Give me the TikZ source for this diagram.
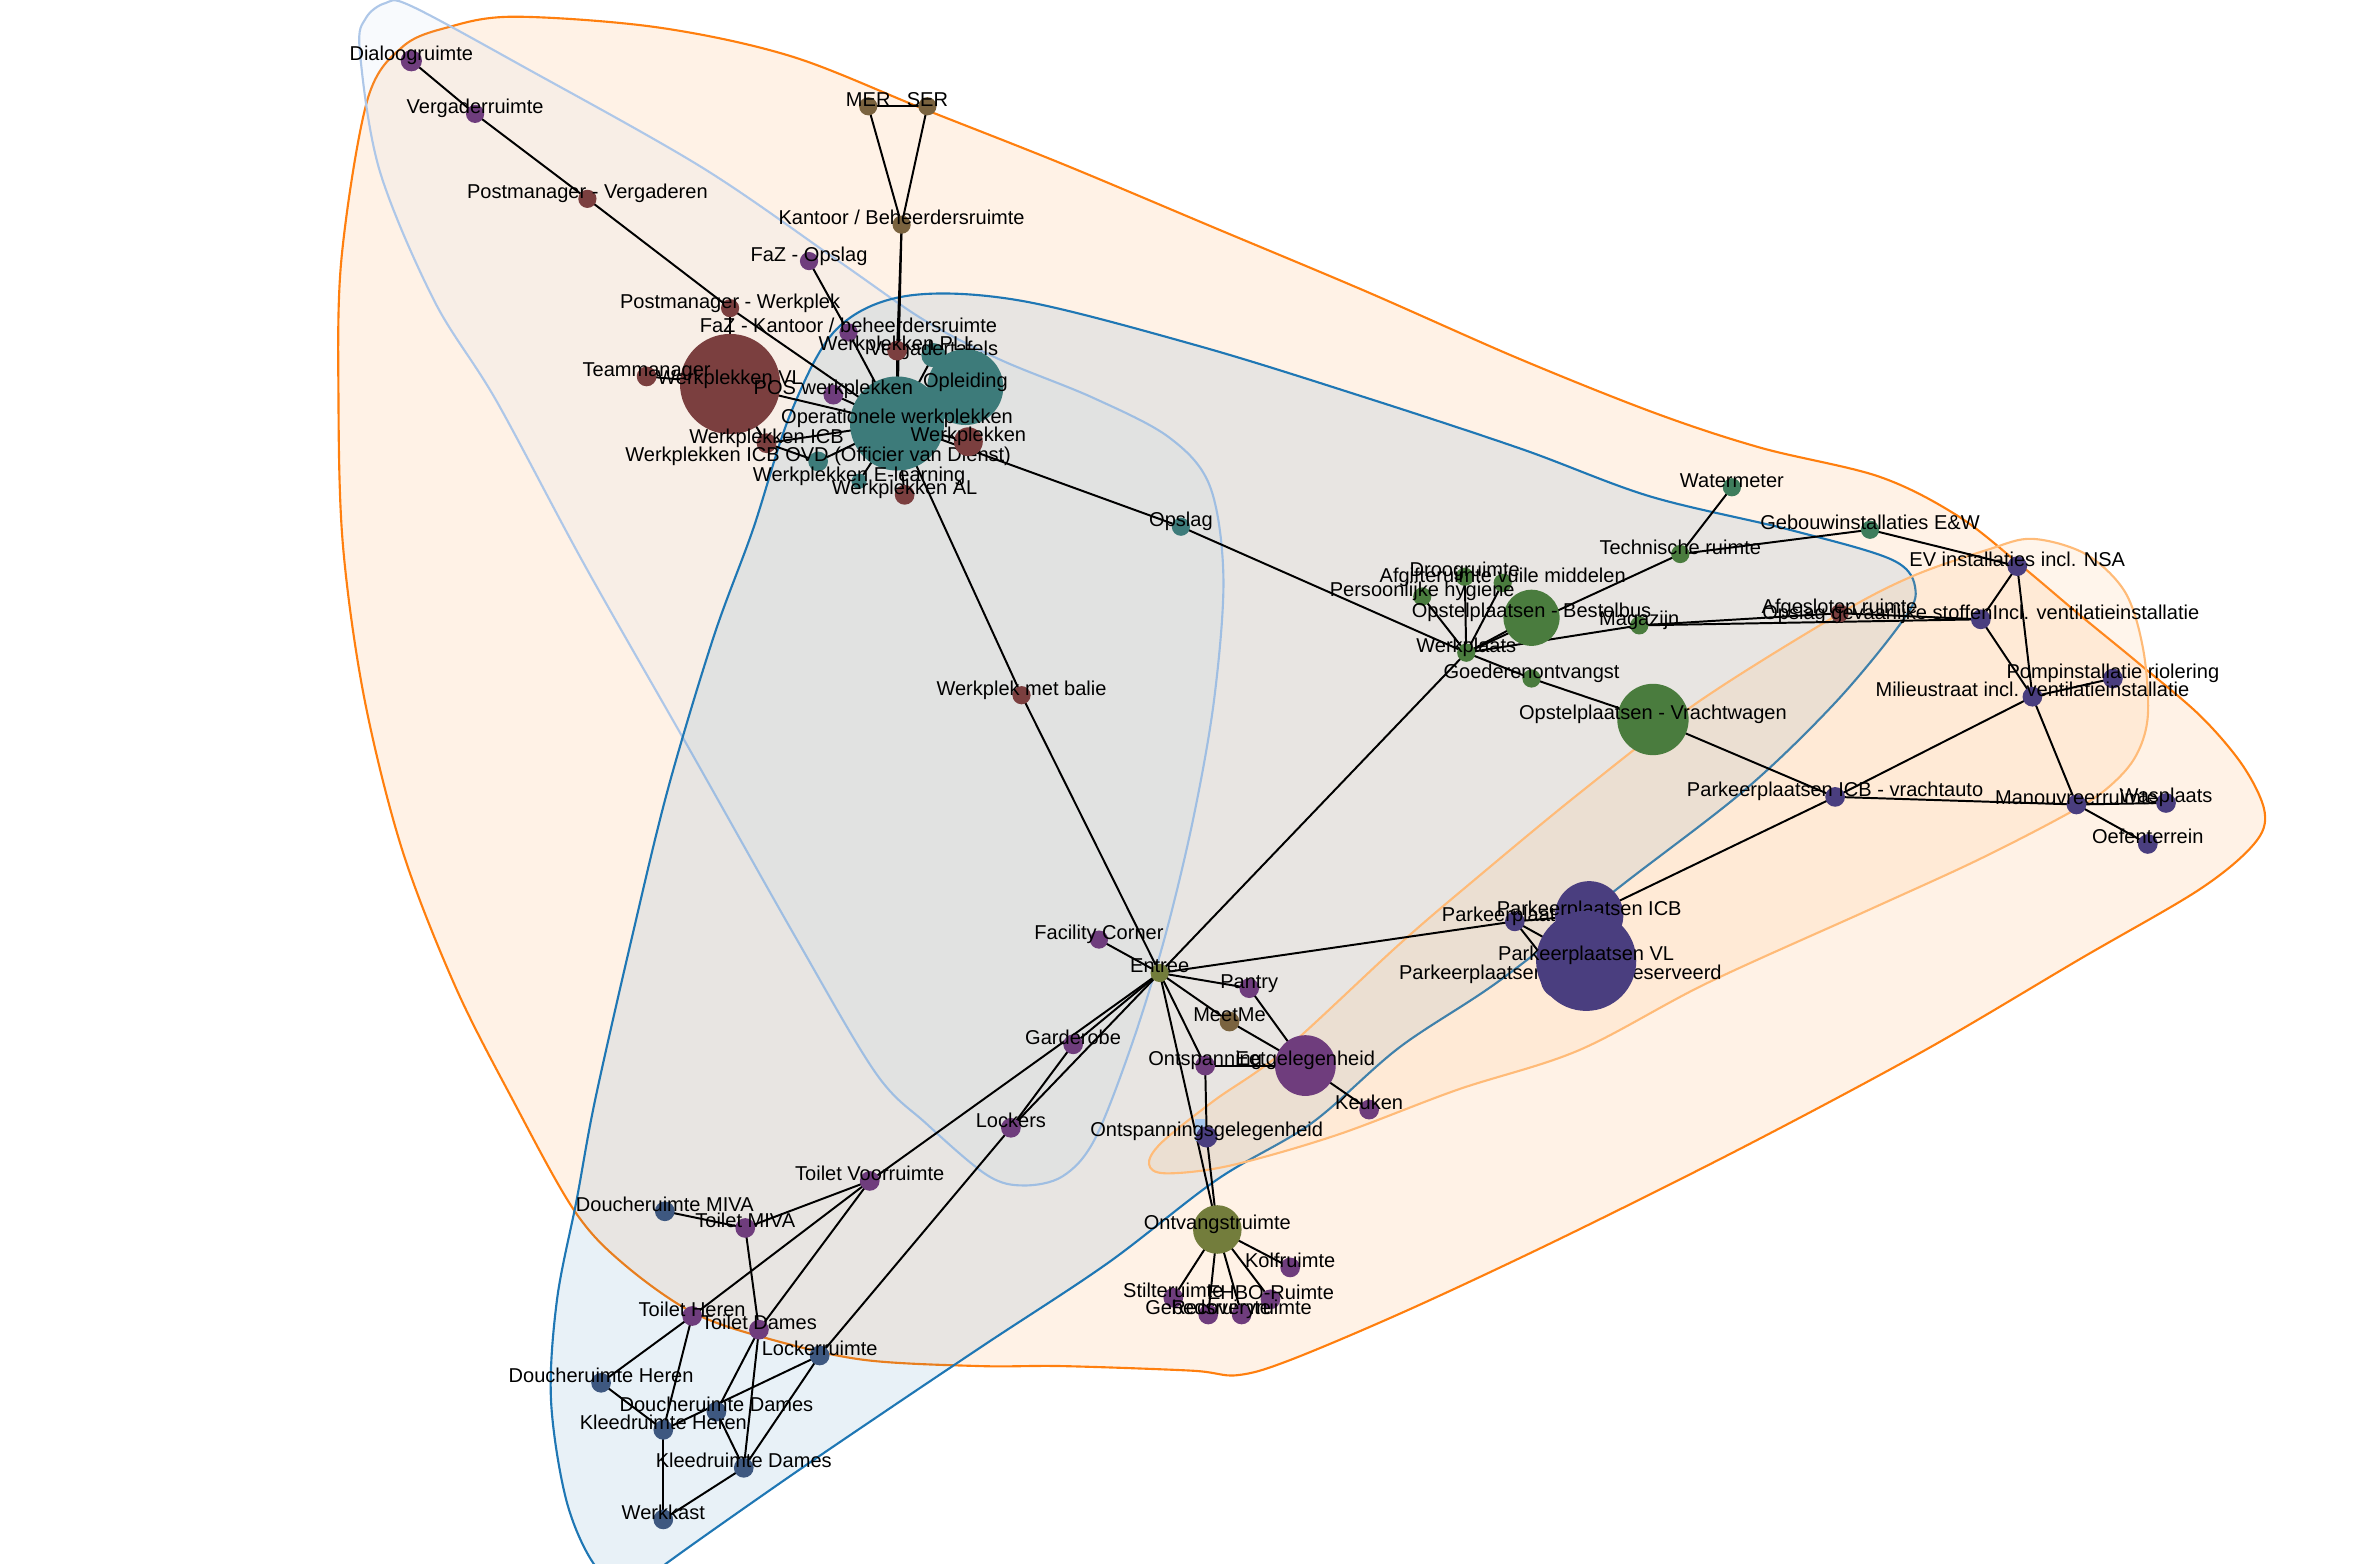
\documentclass[tikz,border=0pt]{standalone}
\usepackage{fontspec}
\setmainfont{Liberation Sans}
\pgfdeclarelayer{hull}
\pgfdeclarelayer{edge}
\pgfsetlayers{hull,edge,main}
\definecolor{cMaroon}{HTML}{7B3F3F}
\definecolor{cPurple}{HTML}{6F3D7D}
\definecolor{cTeal}{HTML}{3D7B7A}
\definecolor{cBrown}{HTML}{7A633F}
\definecolor{cGreen}{HTML}{4A7C3E}
\definecolor{cSea}{HTML}{3E7D5C}
\definecolor{cIndigo}{HTML}{4A3E7F}
\definecolor{cSlate}{HTML}{3E5880}
\definecolor{cOlive}{HTML}{737D3C}
\definecolor{hOrange}{HTML}{FF7F0E}
\definecolor{hBlue}{HTML}{1F77B4}
\definecolor{hSteel}{HTML}{AEC7E8}
\definecolor{hPeach}{HTML}{FFBB78}
\definecolor{hiBlue}{HTML}{A8C8EE}
\tikzset{
  vtx/.style={circle, inner sep=0pt, draw=none},
  lbl/.style={anchor=base, inner sep=0pt, font=\fontsize{6.6}{7}\selectfont, text=black},
  edge/.style={draw=black, line width=0.65pt},
  hull/.style={line width=0.7pt, line join=round},
}
\newcommand\vx[6]{\node[vtx,fill=#5,minimum size=#4pt] (#1) at (#2,#3) {};\node[lbl] (#1-l) at (#2,#3) {#6};}
\newcommand\ee[2]{\draw[edge] (#1.center) -- (#2.center);}
\begin{document}
\begin{tikzpicture}[x=0.5pt,y=-0.5pt]
\useasboundingbox (0,0) rectangle (1568,1030);
\begin{pgfonlayer}{hull}
\begin{scope}
\clip (0,0) rectangle (1568,1030);
% orange hull
\draw[hull, draw=hOrange, fill=hOrange, fill opacity=0.1] plot[smooth cycle, tension=0.55] coordinates {
(242,66) (265,31) (295,18) (339,11) (433,18) (521,37) (609,72) (700,108) (800,150) (900,192) (1000,236) (1090,272) (1160,295) (1238,314) (1290,340) (1332,373) (1370,405) (1409,437) (1450,472) (1478,505) (1492,535) (1485,556) (1449,586) (1370,632) (1268,692) (1150,755) (1030,815) (930,862) (850,896) (815,906) (785,903) (700,900) (646,900) (570,896) (510,883) (457,865) (410,832) (378,797) (338,725) (300,650) (265,560) (240,460) (226,360) (223,264) (225,170)};
% steel blue hull
\draw[hull, draw=hSteel, fill=hSteel, fill opacity=0.09] plot[smooth cycle, tension=0.55] coordinates {
(254,2) (271,4) (345,44) (462,110) (551,171) (609,211) (659,237) (720,262) (770,288) (797,320) (806,380) (800,460) (786,540) (767,619) (745,690) (721,751) (700,775) (674,781) (650,774) (610,740) (577,707) (525,619) (455,495) (385,372) (327,264) (286,198) (250,112) (237,33) (241,12)};
% blue hull
\draw[hull, draw=hBlue, fill=hBlue, fill opacity=0.1] plot[smooth cycle, tension=0.55] coordinates {
(551,217) (597,195) (672,198) (790,228) (900,262) (1003,296) (1087,327) (1179,349) (1247,369) (1262,389) (1252,411) (1209,463) (1150,520) (1070,582) (988,646) (922,690) (864,740) (802,777) (730,832) (650,885) (580,932) (514,977) (439,1030) (415,1050) (391,1030) (373,988) (363,922) (367,856) (380,790) (392,725) (416,619) (440,520) (470,420) (496,349) (521,272)};
% peach hull
\draw[hull, draw=hPeach, fill=hPeach, fill opacity=0.15] plot[smooth cycle, tension=0.55] coordinates {
(1339,355) (1374,365) (1400,390) (1412,428) (1415,472) (1406,500) (1385,522) (1355,540) (1300,568) (1230,600) (1124,648) (1040,692) (960,718) (880,748) (810,768) (768,773) (757,767) (765,753) (800,725) (845,693) (922,622) (971,580) (1040,523) (1118,463) (1209,406) (1259,380) (1310,362)};
\end{scope}
\end{pgfonlayer}
% ---------------- nodes ----------------
\vx{dialoog}{271}{40}{7}{cPurple}{Dialoogruimte}
\vx{vergr}{313}{75}{6}{cPurple}{Vergaderruimte}
\vx{pmv}{387}{131}{6}{cMaroon}{Postmanager - Vergaderen}
\vx{pmw}{481}{203}{6}{cMaroon}{Postmanager - Werkplek}
\vx{mer}{572}{70}{6}{cBrown}{MER}
\vx{ser}{611}{70}{6}{cBrown}{SER}
\vx{kantoor}{594}{148}{6}{cBrown}{Kantoor / Beheerdersruimte}
\vx{fazo}{533}{172}{6}{cPurple}{FaZ - Opslag}
\vx{vtaf}{615}{234}{8}{cTeal}{Vergadertafels}
\vx{opl}{636}{255}{25}{cTeal}{Opleiding}
\vx{fazk}{559}{219}{6}{cPurple}{FaZ - Kantoor / beheerdersruimte}
\vx{pll}{591}{231}{6.5}{cMaroon}{Werkplekken PLL}
\vx{wvl}{481}{253}{33}{cMaroon}{Werkplekken VL}
\vx{team}{426}{248}{6.5}{cMaroon}{Teammanager}
\vx{oper}{591}{279}{31}{cTeal}{Operationele werkplekken}
\vx{pos}{549}{260}{6.5}{cPurple}{POS werkplekken}
\vx{wicb}{505}{292}{6.5}{cMaroon}{Werkplekken ICB}
\vx{ovd}{539}{304}{6.5}{cTeal}{Werkplekken ICB OVD (Officier van Dienst)}
\vx{elearn}{566}{317}{5}{cTeal}{Werkplekken E-learning}
\vx{wal}{596}{326}{6.5}{cMaroon}{Werkplekken AL}
\vx{wpk}{638}{291}{9.5}{cMaroon}{Werkplekken}
\vx{opslag}{778}{347}{6}{cTeal}{Opslag}
\vx{balie}{673}{458}{6}{cMaroon}{Werkplek met balie}
% right cluster
\vx{water}{1141}{321}{6}{cSea}{Watermeter}
\vx{techn}{1107}{365}{6}{cGreen}{Technische ruimte}
\vx{gebouw}{1232}{349}{6}{cSea}{Gebouwinstallaties E\&W}
\vx{ev}{1329}{373}{6.5}{cIndigo}{EV installaties incl. NSA}
\vx{droog}{965}{380}{6}{cGreen}{Droogruimte}
\vx{afgifte}{990}{384}{6}{cGreen}{Afgifteruimte vuile middelen}
\vx{hyg}{937}{393}{6}{cGreen}{Persoonlijke hygiene}
\vx{bestel}{1009}{407}{18.5}{cGreen}{Opstelplaatsen - Bestelbus}
\vx{werkpl}{966}{430}{6}{cGreen}{Werkplaats}
\vx{magazijn}{1080}{412}{6}{cGreen}{Magazijn}
\vx{goed}{1009}{447}{6}{cGreen}{Goederenontvangst}
\vx{vracht}{1089}{474}{23.5}{cGreen}{Opstelplaatsen - Vrachtwagen}
\vx{afges}{1212}{404}{6}{cMaroon}{Afgesloten ruimte}
\vx{gevaar}{1305}{408}{6.5}{cIndigo}{Opslag gevaarlijke stoffenIncl. ventilatieinstallatie}
\vx{pomp}{1392}{447}{6.5}{cIndigo}{Pompinstallatie riolering}
\vx{milieu}{1339}{459}{6.5}{cIndigo}{Milieustraat incl. ventilatieinstallatie}
\vx{picbv}{1209}{525}{6.5}{cIndigo}{Parkeerplaatsen ICB - vrachtauto}
\vx{manouv}{1368}{530}{6.5}{cIndigo}{Manouvreerruimte}
\vx{was}{1427}{529}{6.5}{cIndigo}{Wasplaats}
\vx{oefen}{1415}{556}{6.5}{cIndigo}{Oefenterrein}
% parking
\vx{park}{998}{607}{6.5}{cIndigo}{Parkeerplaatsen}
\vx{pres}{1028}{645}{13}{cIndigo}{Parkeerplaatsen MIVA gereserveerd}
\vx{picb}{1047}{603}{22.5}{cIndigo}{Parkeerplaatsen ICB}
\vx{pvl}{1045}{633}{33}{cIndigo}{Parkeerplaatsen VL}
% entree cluster
\vx{entree}{764}{641}{6}{cOlive}{Entree}
\vx{facil}{724}{619}{6}{cPurple}{Facility Corner}
\vx{pantry}{823}{651}{6.5}{cPurple}{Pantry}
\vx{meetme}{810}{673}{6.5}{cBrown}{MeetMe}
\vx{ontsp}{794}{702}{6.5}{cPurple}{Ontspanning}
\vx{eet}{860}{702}{20}{cPurple}{Eetgelegenheid}
\vx{keuken}{902}{731}{6.5}{cPurple}{Keuken}
\fill[hiBlue] (787,737) rectangle (794,752);
\vx{ontspg}{795}{749}{7}{cIndigo}{Ontspanningsgelegenheid}
\vx{ontv}{802}{810}{16}{cOlive}{Ontvangstruimte}
\vx{kolf}{850}{835}{6.5}{cPurple}{Kolfruimte}
\vx{stilte}{773}{855}{6.5}{cPurple}{Stilteruimte}
\vx{ehbo}{837}{856}{6.5}{cPurple}{EHBO-Ruimte}
\vx{gebeds}{796}{866}{6.5}{cPurple}{Gebedsruimte}
\vx{recov}{818}{866}{6.5}{cPurple}{Recoveryruimte}
% left lower
\vx{garde}{707}{688}{6.5}{cPurple}{Garderobe}
\vx{lockers}{666}{743}{6.5}{cPurple}{Lockers}
\vx{tvoor}{573}{778}{6.5}{cPurple}{Toilet Voorruimte}
\vx{dmiva}{438}{798}{6.5}{cSlate}{Doucheruimte MIVA}
\vx{tmiva}{491}{809}{6.5}{cPurple}{Toilet MIVA}
\vx{theren}{456}{867}{6.5}{cPurple}{Toilet Heren}
\vx{tdames}{500}{876}{6.5}{cPurple}{Toilet Dames}
\vx{lockerr}{540}{893}{6.5}{cSlate}{Lockerruimte}
\vx{dheren}{396}{911}{6.5}{cSlate}{Doucheruimte Heren}
\vx{ddames}{472}{930}{6.5}{cSlate}{Doucheruimte Dames}
\vx{kheren}{437}{942}{6.5}{cSlate}{Kleedruimte Heren}
\vx{kdames}{490}{967}{6.5}{cSlate}{Kleedruimte Dames}
\vx{werkkast}{437}{1001}{6.5}{cSlate}{Werkkast}
% ---------------- edges ----------------
\begin{pgfonlayer}{edge}
\ee{dialoog}{vergr}\ee{vergr}{pmv}\ee{pmv}{pmw}\ee{pmw}{wvl}\ee{pmw}{oper}
\ee{mer}{ser}\ee{mer}{kantoor}\ee{ser}{kantoor}
\ee{kantoor}{pll}\ee{pll}{oper}\ee{kantoor}{oper}
\ee{fazo}{fazk}\ee{fazk}{oper}\ee{vtaf}{oper}\ee{opl}{oper}
\ee{team}{wvl}\ee{wvl}{oper}\ee{wvl}{wicb}\ee{pos}{oper}
\ee{wicb}{oper}\ee{wicb}{ovd}\ee{ovd}{oper}\ee{elearn}{oper}\ee{wal}{oper}\ee{wpk}{oper}
\ee{oper}{opslag}\ee{opslag}{werkpl}\ee{oper}{balie}\ee{balie}{entree}
\ee{werkpl}{droog}\ee{werkpl}{afgifte}\ee{werkpl}{hyg}\ee{werkpl}{bestel}\ee{werkpl}{techn}
\ee{werkpl}{magazijn}\ee{werkpl}{goed}\ee{werkpl}{entree}
\ee{techn}{water}\ee{techn}{gebouw}\ee{gebouw}{ev}
\ee{magazijn}{afges}\ee{afges}{gevaar}\ee{magazijn}{gevaar}
\ee{ev}{gevaar}\ee{ev}{milieu}\ee{gevaar}{milieu}\ee{milieu}{pomp}\ee{milieu}{picbv}\ee{milieu}{manouv}
\ee{goed}{vracht}\ee{vracht}{picbv}
\ee{picbv}{manouv}\ee{manouv}{was}\ee{manouv}{oefen}\ee{picbv}{picb}
\ee{entree}{park}\ee{park}{picb}\ee{park}{pvl}\ee{park}{pres}
\ee{entree}{facil}\ee{entree}{pantry}\ee{pantry}{eet}\ee{entree}{meetme}\ee{meetme}{eet}
\ee{entree}{ontsp}\ee{ontsp}{eet}\ee{ontsp}{ontspg}\ee{eet}{keuken}
\ee{entree}{ontv}\ee{ontspg}{ontv}
\ee{ontv}{kolf}\ee{ontv}{ehbo}\ee{ontv}{stilte}\ee{ontv}{gebeds}\ee{ontv}{recov}
\ee{entree}{garde}\ee{entree}{tvoor}\ee{garde}{lockers}\ee{entree}{lockers}\ee{lockers}{lockerr}
\ee{tvoor}{tmiva}\ee{tvoor}{theren}\ee{tvoor}{tdames}
\ee{dmiva}{tmiva}\ee{tmiva}{tdames}
\ee{theren}{dheren}\ee{theren}{kheren}\ee{dheren}{kheren}
\ee{tdames}{ddames}\ee{tdames}{kdames}
\ee{lockerr}{kheren}\ee{lockerr}{kdames}\ee{ddames}{kdames}
\ee{kheren}{werkkast}\ee{kdames}{werkkast}
\end{pgfonlayer}
\end{tikzpicture}
\end{document}
